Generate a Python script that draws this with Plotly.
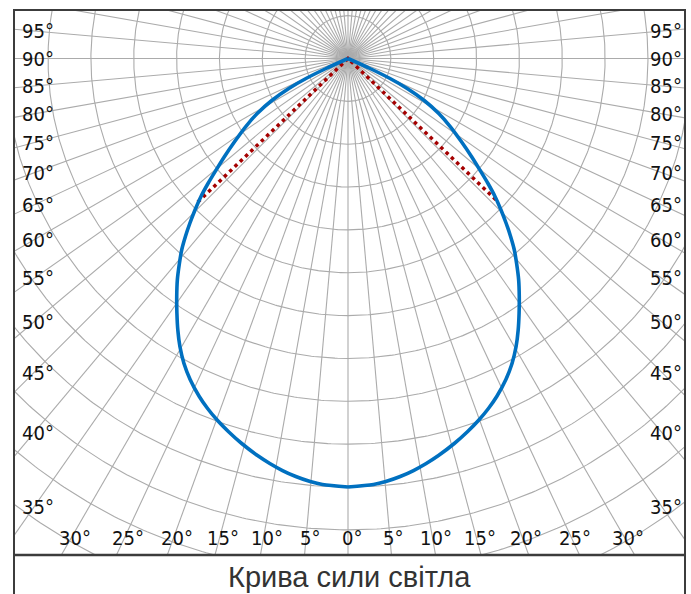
import numpy as np
import plotly.graph_objects as go

# ---------------- data ----------------
# luminous intensity curve, symmetric: angle from nadir (deg) -> intensity (grid units)
curve_angles = [0.0, 3.43, 5.11, 7.12, 9.03, 10.93, 12.84, 15.43, 17.79, 19.90, 21.86,
                23.75, 26.19, 28.27, 30.27, 32.08, 33.86, 35.74, 37.67, 39.44, 41.03,
                42.41, 43.80, 45.28, 46.82, 48.24, 49.72, 51.57, 53.78, 56.36, 58.79,
                61.14, 63.13, 64.54, 65.56, 66.2]
curve_values = [10.0, 9.959, 9.911, 9.831, 9.736, 9.626, 9.503, 9.321, 9.142, 8.973, 8.801,
                8.618, 8.348, 8.082, 7.782, 7.478, 7.166, 6.843, 6.516, 6.194, 5.909,
                5.626, 5.335, 5.025, 4.705, 4.380, 4.044, 3.679, 3.278, 2.865, 2.477,
                2.031, 1.549, 1.086, 0.564, 0.0]
# half-intensity (beam) marker
beam_half_angle = 46.3
beam_half_value = 4.85
# angle labels
side_label_angles = [35, 40, 45, 50, 55, 60, 65, 70, 75, 80, 85, 90, 95]
bottom_label_angles = [0, 5, 10, 15, 20, 25, 30]
# grid
radial_step_deg = 5
circle_radii = list(range(1, 16))
title_text = "Крива сили світла"

# ---------------- geometry ----------------
W, H = 691, 594
ML, MR, MT, MB = 14, 6, 10, 39
UNIT = 42.85                      # px per grid unit
CX, CY = 348 - ML, 58.5 - MT      # pole position inside plot area (px)
PW, PH = W - ML - MR, H - MT - MB
xr = [-CX / UNIT, (PW - CX) / UNIT]
yr = [-(PH - CY) / UNIT, CY / UNIT]

GRID = "#ababab"
LABEL_FONT = "Liberation Sans Narrow, Arial Narrow, DejaVu Sans Condensed, sans-serif"

fig = go.Figure()

# radial grid lines
gx, gy = [], []
R = 20
for a in np.arange(0, 360, radial_step_deg):
    t = np.radians(a)
    gx += [0, R * np.sin(t), None]
    gy += [0, -R * np.cos(t), None]
fig.add_trace(go.Scatter(x=gx, y=gy, mode="lines", line=dict(color=GRID, width=1.1),
                         hoverinfo="skip", showlegend=False))

# circular grid lines
tt = np.radians(np.linspace(0, 360, 721))
cx_, cy_ = [], []
for r in circle_radii:
    cx_ += list(r * np.sin(tt)) + [None]
    cy_ += list(-r * np.cos(tt)) + [None]
fig.add_trace(go.Scatter(x=cx_, y=cy_, mode="lines", line=dict(color=GRID, width=1.1),
                         hoverinfo="skip", showlegend=False))

# beam marker (dotted red): from the pole towards the half-intensity points
tb = np.radians(beam_half_angle)
fig.add_trace(go.Scatter(
    x=[-beam_half_value * np.sin(tb), 0, beam_half_value * np.sin(tb)],
    y=[-beam_half_value * np.cos(tb), 0, -beam_half_value * np.cos(tb)],
    mode="lines", line=dict(color="#a50000", width=3.5, dash="3.5px,3.8px"),
    hoverinfo="skip", showlegend=False))

# intensity curve: two branches meeting at the pole
ca = np.radians(np.array(curve_angles))
cv = np.array(curve_values)
for s in (-1, 1):
    fig.add_trace(go.Scatter(
        x=s * cv * np.sin(ca), y=-cv * np.cos(ca), mode="lines",
        line=dict(color="#0070c0", width=3.6, shape="spline", smoothing=0.8),
        hoverinfo="skip", showlegend=False))

# angle labels
annotations = []
LX = 314 / UNIT
LY = 479.5 / UNIT
for a in side_label_angles:
    t = np.radians(a)
    for s in (-1, 1):
        annotations.append(dict(x=s * LX, y=-LX * np.cos(t) / np.sin(t), xref="x", yref="y",
                                text=f"{a}°", showarrow=False, xanchor="center", yanchor="middle",
                                xshift=3.5, font=dict(family=LABEL_FONT, size=20, color="#111111")))
for a in bottom_label_angles:
    t = np.radians(a)
    sides = (1,) if a == 0 else (-1, 1)
    for s in sides:
        annotations.append(dict(x=s * LY * np.tan(t), y=-LY, xref="x", yref="y",
                                text=f"{a}°", showarrow=False, xanchor="center", yanchor="middle",
                                xshift=3.5, font=dict(family=LABEL_FONT, size=20, color="#111111")))
annotations.append(dict(x=0.5, y=-21.5 / PH, xref="paper", yref="paper", text=title_text,
                        showarrow=False, xanchor="center", yanchor="middle",
                        font=dict(family="Liberation Sans, Arial, sans-serif", size=29,
                                  color="#333333")))

shapes = [
    dict(type="rect", xref="paper", yref="paper", x0=0, x1=1, y0=-0.2, y1=1,
         line=dict(color="#3c3c3c", width=2)),
    dict(type="line", xref="paper", yref="paper", x0=0, x1=1, y0=0, y1=0,
         line=dict(color="#3c3c3c", width=2.5)),
]

fig.update_layout(
    width=W, height=H,
    margin=dict(l=ML, r=MR, t=MT, b=MB),
    paper_bgcolor="white", plot_bgcolor="white",
    xaxis=dict(range=xr, visible=False, fixedrange=True),
    yaxis=dict(range=yr, visible=False, fixedrange=True),
    annotations=annotations, shapes=shapes,
    showlegend=False,
)

fig.write_html("out.html", config={"displayModeBar": False},
               post_script="document.body.style.margin='0';document.body.style.overflow='hidden';")
